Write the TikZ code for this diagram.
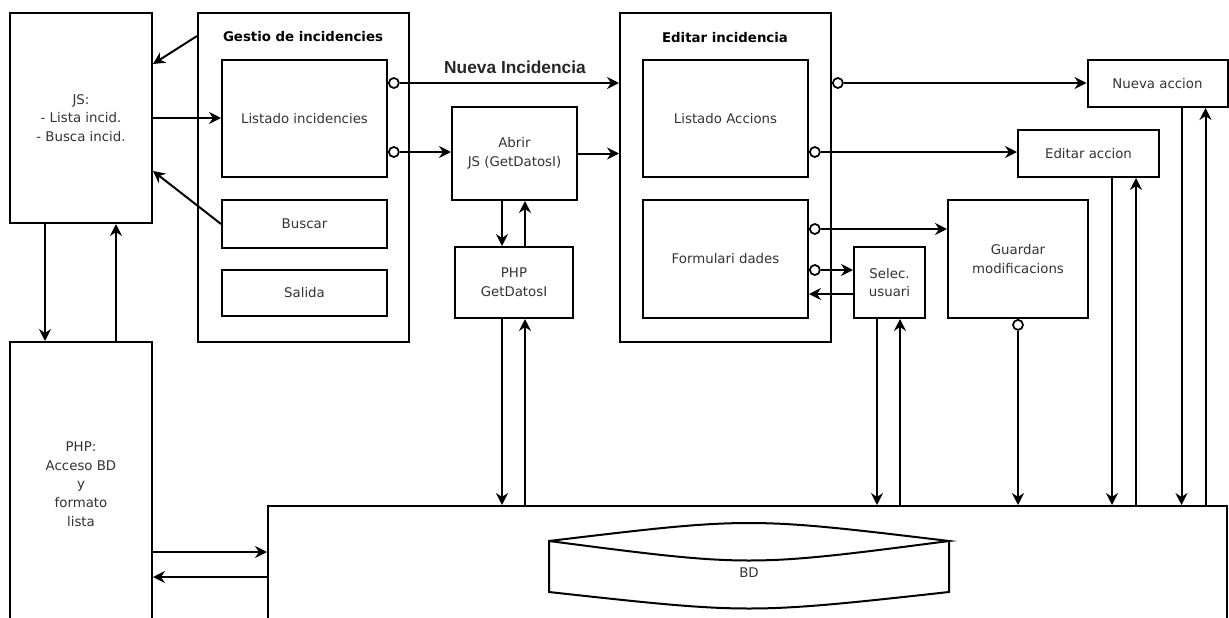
\documentclass[tikz,border=0pt]{standalone}
\usepackage{fontspec}
\setmainfont{DejaVu Sans}
\newfontfamily\arialfont{Liberation Sans}
\usetikzlibrary{calc,arrows.meta}

\begin{document}
\begin{tikzpicture}[x=0.75pt,y=-0.75pt,
        >={Stealth[length=9pt,width=9pt,inset=3pt]},
        flecha/.style={draw, line width=1.5pt},
        caja/.style 2 args={draw, line width=1.5pt, minimum width=#1*0.75pt, minimum height=#2*0.75pt,
            inner sep=0pt, align=center, text=black!80, font=\fontsize{10}{14}\selectfont},
        puerto/.style={draw, circle, line width=1.3pt, fill=white, minimum size=7.5pt, inner sep=0pt},
        titulo/.style={font=\bfseries\fontsize{10}{12}\selectfont}]
        \useasboundingbox (0,0) rectangle (1229,618);
        %\draw [help lines, step=50] (0,0) grid (1229,618);

        % cajas grandes
        \node [caja={142}{210}] (js) at (81,118) {JS:\\- Lista incid.\\- Busca incid.};
        \node [caja={142}{284}] (php) at (81,484) {PHP:\\Acceso BD\\y\\formato\\lista};
        \node [caja={211}{329}] (gestio) at (303.5,177.5) {};
        \node [titulo] (tgestio) at (303,37) {Gestio de incidencies};
        \node [caja={165}{117}] (lstinc) at (304.5,118.5) {Listado incidencies};
        \node [caja={165}{48}] (buscar) at (304.5,224) {Buscar};
        \node [caja={165}{46}] (salida) at (304.5,293) {Salida};

        \node [caja={125}{93}] (abrir) at (514.5,153.5) {Abrir\\JS (GetDatosI)};
        \node [caja={118}{71}] (phpget) at (514,282.5) {PHP\\GetDatosI};

        \node [caja={211}{329}] (editar) at (725.5,177.5) {};
        \node [titulo] (teditar) at (725,38) {Editar incidencia};
        \node [caja={165}{117}] (lstacc) at (725.5,118.5) {Listado Accions};
        \node [caja={165}{118}] (formul) at (725.5,259) {Formulari dades};

        \node [caja={71}{71}] (selec) at (889.5,282.5) {Selec.\\usuari};
        \node [caja={140}{118}] (guardar) at (1018,259) {Guardar\\modificacions};
        \node [caja={141}{47}] (editac) at (1088.5,153.5) {Editar accion};
        \node [caja={140}{47}] (nuevaac) at (1157.5,83.5) {Nueva accion};

        \node [caja={959}{148}] (bd) at (747.5,580) {};
        \draw [line width=1.5pt] (549,541) .. controls (749,517) .. (949,541) .. controls (749,567) .. (549,541) -- (549,592)
            .. controls (749,614) .. (949,592) -- (949,541);
        \node [text=black!80, font=\fontsize{10}{12}\selectfont] (tbd) at (749,573) {BD};

        % JS <-> gestio
        \draw [flecha, ->] ($(gestio.north west)+(0,24)$) -- ($(js.north east)+(0,52)$);
        \draw [flecha, ->] (js.east) -- (js.east -| lstinc.west);
        \draw [flecha, ->] (buscar.west) -- ($(js.north east)+(0,159)$);
        \draw [flecha, ->] ($(js.south west)+(36,0)$) coordinate (a1) -- (a1 |- php.north);
        \draw [flecha, <-] ($(js.south west)+(107,0)$) coordinate (a2) -- (a2 |- php.north);

        % PHP <-> BD
        \draw [flecha, <-] ($(bd.north west)+(0,47)$) coordinate (d1) -- (d1 -| php.east);
        \draw [flecha, ->] ($(bd.north west)+(0,72)$) coordinate (d2) -- (d2 -| php.east);

        % puertos
        \node [puerto, anchor=west] (p1) at ($(lstinc.north east)+(0,24)$) {};
        \node [puerto, anchor=west] (p2) at ($(lstinc.north east)+(0,93)$) {};
        \node [puerto, anchor=west] (p3) at ($(editar.north east)+(0,71)$) {};
        \node [puerto, anchor=west] (p4) at ($(lstacc.north east)+(0,93)$) {};
        \node [puerto, anchor=west] (p5) at ($(formul.north east)+(0,30)$) {};
        \node [puerto, anchor=west] (p6) at ($(formul.north east)+(0,71)$) {};
        \node [puerto, anchor=north] (p7) at (guardar.south) {};

        \draw [flecha, ->] (p1) -- (p1 -| editar.west);
        \node [font=\arialfont\bfseries\fontsize{13}{15}\selectfont, text=black!85] (tnueva) at (515,67) {Nueva Incidencia};
        \draw [flecha, ->] (p2) -- (p2 -| abrir.west);
        \draw [flecha, ->] (abrir.east) -- (abrir.east -| editar.west);
        \draw [flecha, ->] (p3) -- (p3 -| nuevaac.west);
        \draw [flecha, ->] (p4) -- (p4 -| editac.west);
        \draw [flecha, ->] (p5) -- (p5 -| guardar.west);
        \draw [flecha, ->] (p6) -- (p6 -| selec.west);
        \draw [flecha, <-] ($(formul.north east)+(0,95)$) coordinate (c1) -- (c1 -| selec.west);

        % abrir / php getdatos
        \draw [flecha, ->] ($(phpget.south west)+(48,0)$) coordinate (b1) -- (b1 |- bd.north);
        \draw [flecha, <-] ($(phpget.south west)+(71,0)$) coordinate (b2) -- (b2 |- bd.north);
        \draw [flecha, ->] (b1 |- abrir.south) -- (b1 |- phpget.north);
        \draw [flecha, <-] (b2 |- abrir.south) -- (b2 |- phpget.north);

        % bajadas a BD
        \draw [flecha, ->] ($(selec.south west)+(24,0)$) coordinate (e1) -- (e1 |- bd.north);
        \draw [flecha, <-] ($(selec.south west)+(47,0)$) coordinate (e2) -- (e2 |- bd.north);
        \draw [flecha, ->] (p7) -- (p7 |- bd.north);
        \draw [flecha, ->] ($(editac.south west)+(95,0)$) coordinate (e3) -- (e3 |- bd.north);
        \draw [flecha, <-] ($(editac.south west)+(119,0)$) coordinate (e4) -- (e4 |- bd.north);
        \draw [flecha, ->] ($(nuevaac.south west)+(95,0)$) coordinate (e5) -- (e5 |- bd.north);
        \draw [flecha, <-] ($(nuevaac.south west)+(119,0)$) coordinate (e6) -- (e6 |- bd.north);

    \end{tikzpicture}
\end{document}
